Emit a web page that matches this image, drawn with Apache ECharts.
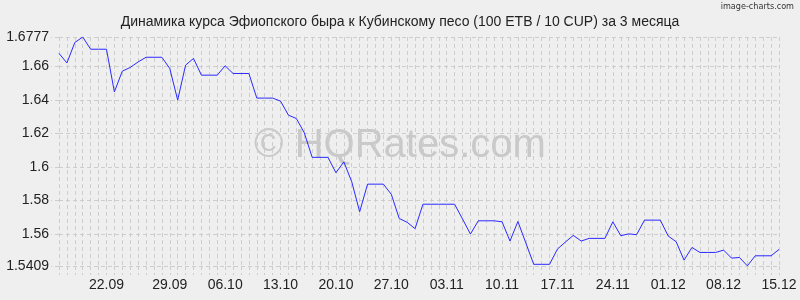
<!DOCTYPE html>
<html>
<head>
<meta charset="utf-8">
<script src="https://cdn.jsdelivr.net/npm/echarts@6/dist/echarts.min.js"></script>
<style>
html,body{margin:0;padding:0;background:#efefef;}
#c{width:800px;height:300px;}
</style>
</head>
<body>
<div id="c"></div>
<script>
var titleText = 'Динамика курса Эфиопского быра к Кубинскому песо (100 ETB / 10 CUP) за 3 месяца';
var rates = [
  1.6679, 1.6622, 1.6744, 1.6777, 1.6704, 1.6704, 1.6704, 1.6449, 1.6573, 1.6595,
  1.6628, 1.6656, 1.6656, 1.6656, 1.6589, 1.6400, 1.6609, 1.6649, 1.6549, 1.6549,
  1.6549, 1.6605, 1.6559, 1.6559, 1.6559, 1.6412, 1.6412, 1.6412, 1.6394, 1.6310,
  1.6290, 1.6205, 1.6058, 1.6058, 1.6058, 1.5966, 1.6031, 1.5912, 1.5733, 1.5898,
  1.5898, 1.5898, 1.5837, 1.5693, 1.5670, 1.5632, 1.5778, 1.5778, 1.5778, 1.5778,
  1.5778, 1.5690, 1.5600, 1.5679, 1.5679, 1.5679, 1.5673, 1.5558, 1.5675, 1.5547,
  1.5419, 1.5419, 1.5419, 1.5510, 1.5552, 1.5592, 1.5558, 1.5574, 1.5574, 1.5574,
  1.5673, 1.5590, 1.5601, 1.5596, 1.5683, 1.5683, 1.5683, 1.5588, 1.5554, 1.5444,
  1.5520, 1.5490, 1.5490, 1.5490, 1.5504, 1.5456, 1.5460, 1.5410, 1.5470, 1.5470,
  1.5470, 1.5508
];
var xTickIndex = [6, 14, 21, 28, 35, 42, 49, 56, 63, 70, 77, 84, 91];
var xTickLabels = ['22.09', '29.09', '06.10', '13.10', '20.10', '27.10', '03.11', '10.11', '17.11', '24.11', '01.12', '08.12', '15.12'];
var yTicks = [1.5409, 1.56, 1.58, 1.6, 1.62, 1.64, 1.66, 1.6777];
var yMin = 1.5409, yMax = 1.6777;

var labelMap = {};
xTickIndex.forEach(function (idx, k) { labelMap[idx] = xTickLabels[k]; });
var seriesData = rates.map(function (v, i) { return [i, v]; });

var FONT = '"Liberation Sans", Arial, sans-serif';
var gridColor = '#cdcdcd';

var chart = echarts.init(document.getElementById('c'), null, {renderer: 'canvas'});
chart.setOption({
  backgroundColor: '#efefef',
  animation: false,
  title: {
    text: titleText,
    left: 'center',
    top: 10,
    textStyle: {fontFamily: FONT, fontSize: 14, fontWeight: 'normal', color: '#222'}
  },
  graphic: [
    {
      type: 'text', right: 6, top: 2, z: 10,
      style: {text: 'image-charts.com', fill: '#333', font: '9px "DejaVu Sans Condensed", sans-serif'}
    },
    {
      type: 'text', left: 'center', top: 126, z: -10, silent: true,
      style: {text: '© HQRates.com', fill: '#c9c9c9', font: '40px ' + FONT}
    }
  ],
  grid: {left: 59, right: 21, top: 37, bottom: 34, containLabel: false},
  xAxis: {
    type: 'value',
    min: 0,
    max: rates.length - 1,
    interval: 1,
    axisLine: {show: false},
    axisTick: {show: true, length: 9, lineStyle: {color: gridColor, type: [4, 3]}},
    splitLine: {show: true, lineStyle: {color: gridColor, type: [4, 3], width: 1}},
    axisLabel: {
      show: true, margin: 12, color: '#222', fontFamily: FONT, fontSize: 14,
      formatter: function (v) { return labelMap[v] !== undefined ? labelMap[v] : ''; }
    }
  },
  yAxis: {
    type: 'value',
    min: yMin,
    max: yMax,
    axisLine: {show: false},
    axisTick: {show: true, length: 8, customValues: yTicks, lineStyle: {color: gridColor, type: [4, 3]}},
    splitLine: {show: true, lineStyle: {color: gridColor, type: [4, 3], width: 1}},
    axisLabel: {
      show: true, margin: 10, color: '#222', fontFamily: FONT, fontSize: 14,
      customValues: yTicks,
      formatter: function (v) { return String(v); }
    }
  },
  series: [{
    type: 'line',
    data: seriesData,
    symbol: 'none',
    lineStyle: {color: '#2a2aff', width: 1},
    z: 5
  }]
});
</script>
</body>
</html>
